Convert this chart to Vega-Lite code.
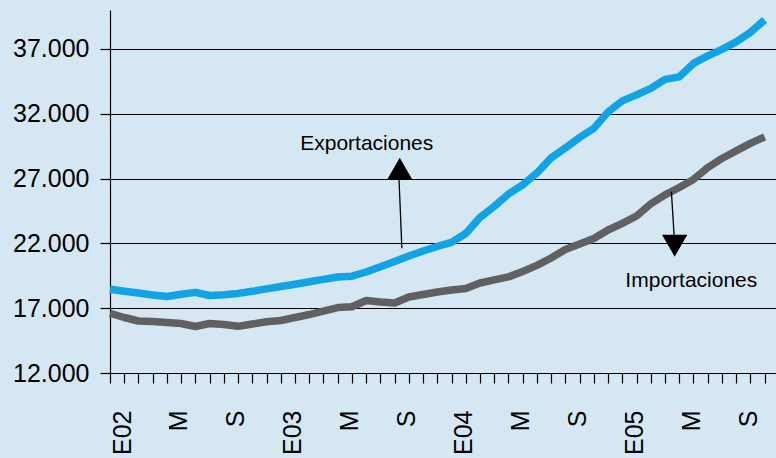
{
  "$schema": "https://vega.github.io/schema/vega-lite/v6.json",
  "width": 666,
  "height": 363,
  "autosize": {"type": "none"},
  "padding": {"left": 110, "top": 10, "right": 0, "bottom": 85},
  "background": "#d6e7f4",
  "config": {"view": {"stroke": null}, "font": "Liberation Sans"},
  "datasets": {
    "series": [
      {"mes": 0, "serie": "Exportaciones", "valor": 18460}, {"mes": 1, "serie": "Exportaciones", "valor": 18310},
      {"mes": 2, "serie": "Exportaciones", "valor": 18170}, {"mes": 3, "serie": "Exportaciones", "valor": 18020},
      {"mes": 4, "serie": "Exportaciones", "valor": 17900}, {"mes": 5, "serie": "Exportaciones", "valor": 18080},
      {"mes": 6, "serie": "Exportaciones", "valor": 18220}, {"mes": 7, "serie": "Exportaciones", "valor": 17980},
      {"mes": 8, "serie": "Exportaciones", "valor": 18030}, {"mes": 9, "serie": "Exportaciones", "valor": 18140},
      {"mes": 10, "serie": "Exportaciones", "valor": 18300}, {"mes": 11, "serie": "Exportaciones", "valor": 18490},
      {"mes": 12, "serie": "Exportaciones", "valor": 18670}, {"mes": 13, "serie": "Exportaciones", "valor": 18850},
      {"mes": 14, "serie": "Exportaciones", "valor": 19040}, {"mes": 15, "serie": "Exportaciones", "valor": 19220},
      {"mes": 16, "serie": "Exportaciones", "valor": 19410}, {"mes": 17, "serie": "Exportaciones", "valor": 19470},
      {"mes": 18, "serie": "Exportaciones", "valor": 19790}, {"mes": 19, "serie": "Exportaciones", "valor": 20200},
      {"mes": 20, "serie": "Exportaciones", "valor": 20600}, {"mes": 21, "serie": "Exportaciones", "valor": 21030},
      {"mes": 22, "serie": "Exportaciones", "valor": 21410}, {"mes": 23, "serie": "Exportaciones", "valor": 21760},
      {"mes": 24, "serie": "Exportaciones", "valor": 22070}, {"mes": 25, "serie": "Exportaciones", "valor": 22760},
      {"mes": 26, "serie": "Exportaciones", "valor": 24000}, {"mes": 27, "serie": "Exportaciones", "valor": 24850},
      {"mes": 28, "serie": "Exportaciones", "valor": 25810}, {"mes": 29, "serie": "Exportaciones", "valor": 26510},
      {"mes": 30, "serie": "Exportaciones", "valor": 27430}, {"mes": 31, "serie": "Exportaciones", "valor": 28590},
      {"mes": 32, "serie": "Exportaciones", "valor": 29360}, {"mes": 33, "serie": "Exportaciones", "valor": 30170},
      {"mes": 34, "serie": "Exportaciones", "valor": 30870}, {"mes": 35, "serie": "Exportaciones", "valor": 32140},
      {"mes": 36, "serie": "Exportaciones", "valor": 32990}, {"mes": 37, "serie": "Exportaciones", "valor": 33450},
      {"mes": 38, "serie": "Exportaciones", "valor": 33950}, {"mes": 39, "serie": "Exportaciones", "valor": 34650},
      {"mes": 40, "serie": "Exportaciones", "valor": 34840}, {"mes": 41, "serie": "Exportaciones", "valor": 35880},
      {"mes": 42, "serie": "Exportaciones", "valor": 36460}, {"mes": 43, "serie": "Exportaciones", "valor": 36960},
      {"mes": 44, "serie": "Exportaciones", "valor": 37540}, {"mes": 45, "serie": "Exportaciones", "valor": 38270},
      {"mes": 46, "serie": "Exportaciones", "valor": 39240},
      {"mes": 0, "serie": "Importaciones", "valor": 16610}, {"mes": 1, "serie": "Importaciones", "valor": 16280},
      {"mes": 2, "serie": "Importaciones", "valor": 16010}, {"mes": 3, "serie": "Importaciones", "valor": 15970},
      {"mes": 4, "serie": "Importaciones", "valor": 15900}, {"mes": 5, "serie": "Importaciones", "valor": 15820},
      {"mes": 6, "serie": "Importaciones", "valor": 15590}, {"mes": 7, "serie": "Importaciones", "valor": 15820},
      {"mes": 8, "serie": "Importaciones", "valor": 15740}, {"mes": 9, "serie": "Importaciones", "valor": 15600},
      {"mes": 10, "serie": "Importaciones", "valor": 15780}, {"mes": 11, "serie": "Importaciones", "valor": 15950},
      {"mes": 12, "serie": "Importaciones", "valor": 16050}, {"mes": 13, "serie": "Importaciones", "valor": 16280},
      {"mes": 14, "serie": "Importaciones", "valor": 16510}, {"mes": 15, "serie": "Importaciones", "valor": 16780},
      {"mes": 16, "serie": "Importaciones", "valor": 17050}, {"mes": 17, "serie": "Importaciones", "valor": 17110},
      {"mes": 18, "serie": "Importaciones", "valor": 17590}, {"mes": 19, "serie": "Importaciones", "valor": 17480},
      {"mes": 20, "serie": "Importaciones", "valor": 17400}, {"mes": 21, "serie": "Importaciones", "valor": 17860},
      {"mes": 22, "serie": "Importaciones", "valor": 18060}, {"mes": 23, "serie": "Importaciones", "valor": 18250},
      {"mes": 24, "serie": "Importaciones", "valor": 18400}, {"mes": 25, "serie": "Importaciones", "valor": 18520},
      {"mes": 26, "serie": "Importaciones", "valor": 18940}, {"mes": 27, "serie": "Importaciones", "valor": 19180},
      {"mes": 28, "serie": "Importaciones", "valor": 19410}, {"mes": 29, "serie": "Importaciones", "valor": 19830},
      {"mes": 30, "serie": "Importaciones", "valor": 20300}, {"mes": 31, "serie": "Importaciones", "valor": 20870},
      {"mes": 32, "serie": "Importaciones", "valor": 21530}, {"mes": 33, "serie": "Importaciones", "valor": 21950},
      {"mes": 34, "serie": "Importaciones", "valor": 22380}, {"mes": 35, "serie": "Importaciones", "valor": 23030},
      {"mes": 36, "serie": "Importaciones", "valor": 23540}, {"mes": 37, "serie": "Importaciones", "valor": 24110},
      {"mes": 38, "serie": "Importaciones", "valor": 25040}, {"mes": 39, "serie": "Importaciones", "valor": 25740},
      {"mes": 40, "serie": "Importaciones", "valor": 26310}, {"mes": 41, "serie": "Importaciones", "valor": 26930},
      {"mes": 42, "serie": "Importaciones", "valor": 27840}, {"mes": 43, "serie": "Importaciones", "valor": 28550},
      {"mes": 44, "serie": "Importaciones", "valor": 29130}, {"mes": 45, "serie": "Importaciones", "valor": 29710},
      {"mes": 46, "serie": "Importaciones", "valor": 30210}
    ],
    "etiquetas": [
      {"mes": 18.04, "valor": 29200, "texto": "Exportaciones"},
      {"mes": 40.85, "valor": 18610, "texto": "Importaciones"}
    ],
    "flechas": [
      {"mes": 20.51, "valor": 21620, "mes2": 20.3, "valor2": 27200},
      {"mes": 39.45, "valor": 25990, "mes2": 39.66, "valor2": 22300}
    ],
    "puntas": [
      {"mes": 20.36, "valor": 27760, "forma": "triangle-up"},
      {"mes": 39.68, "valor": 21820, "forma": "triangle-down"}
    ]
  },
  "layer": [
    {
      "data": {"name": "series"},
      "mark": {"type": "line", "strokeWidth": 7.5, "strokeJoin": "round", "strokeCap": "butt", "clip": false},
      "encoding": {
        "x": {
          "field": "mes", "type": "quantitative",
          "scale": {"domain": [0, 46.8], "nice": false, "zero": false},
          "axis": {
            "title": null, "grid": false, "tickCount": 60,
            "values": [0,1,2,3,4,5,6,7,8,9,10,11,12,13,14,15,16,17,18,19,20,21,22,23,24,25,26,27,28,29,30,31,32,33,34,35,36,37,38,39,40,41,42,43,44,45,46],
            "labelExpr": "datum.value % 12 == 0 ? 'E0' + (2 + floor(datum.value / 12)) : datum.value % 12 == 4 ? 'M' : datum.value % 12 == 8 ? 'S' : ''",
            "labelAngle": 270, "labelAlign": "right", "labelBaseline": "top",
            "labelPadding": 27, "labelFontSize": 25, "labelColor": "black",
            "labelOverlap": false, "labelFlush": false, "labelBound": false,
            "tickSize": 10, "tickColor": "black", "tickWidth": 1.2,
            "domainColor": "black", "domainWidth": 1.2
          }
        },
        "y": {
          "field": "valor", "type": "quantitative",
          "scale": {"domain": [12000, 40000], "nice": false, "zero": false},
          "axis": {
            "title": null, "tickCount": 10,
            "values": [12000, 17000, 22000, 27000, 32000, 37000],
            "labelExpr": "replace(format(datum.value, ','), ',', '.')",
            "labelFontSize": 25, "labelColor": "black", "labelPadding": 11,
            "grid": true, "gridColor": "black", "gridOpacity": 1, "gridWidth": 1.2,
            "tickSize": 10, "tickColor": "black", "tickWidth": 1.2,
            "domainColor": "black", "domainWidth": 1.2
          }
        },
        "color": {
          "field": "serie", "type": "nominal",
          "scale": {"domain": ["Exportaciones", "Importaciones"], "range": ["#10a4e4", "#606060"]},
          "legend": null
        }
      }
    },
    {
      "data": {"name": "flechas"},
      "mark": {"type": "rule", "color": "black", "strokeWidth": 1.3},
      "encoding": {
        "x": {"field": "mes", "type": "quantitative"},
        "y": {"field": "valor", "type": "quantitative"},
        "x2": {"field": "mes2"},
        "y2": {"field": "valor2"}
      }
    },
    {
      "data": {"name": "puntas"},
      "mark": {"type": "point", "filled": true, "color": "black", "opacity": 1, "size": 640},
      "encoding": {
        "x": {"field": "mes", "type": "quantitative"},
        "y": {"field": "valor", "type": "quantitative"},
        "shape": {"field": "forma", "type": "nominal", "scale": null}
      }
    },
    {
      "data": {"name": "etiquetas"},
      "mark": {"type": "text", "fontSize": 21, "color": "black", "align": "center", "baseline": "alphabetic"},
      "encoding": {
        "x": {"field": "mes", "type": "quantitative"},
        "y": {"field": "valor", "type": "quantitative"},
        "text": {"field": "texto"}
      }
    }
  ]
}
